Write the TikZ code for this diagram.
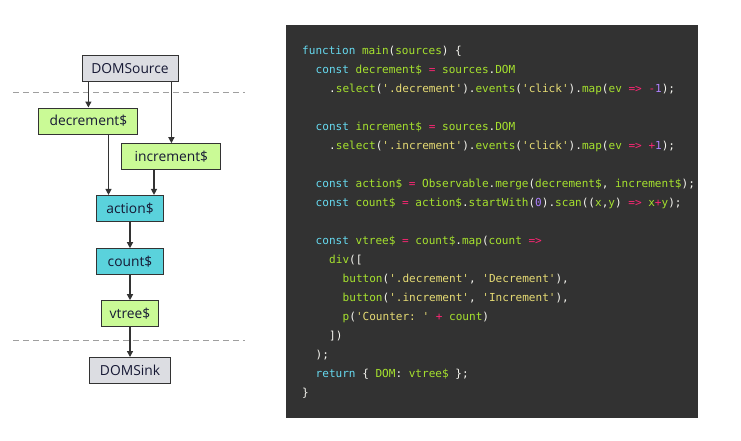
\documentclass[tikz,border=0pt]{standalone}
\usepackage{fontspec}
\setmainfont{Open Sans}
\setmonofont{DejaVu Sans Mono}
\usepackage{xcolor}
\usepackage{tikz}
\usetikzlibrary{arrows.meta,positioning}
\definecolor{edge}{RGB}{51,51,51}
\definecolor{ink}{RGB}{22,24,52}
\definecolor{iogray}{RGB}{220,221,226}
\definecolor{evgreen}{RGB}{202,250,150}
\definecolor{stcyan}{RGB}{90,210,220}
\definecolor{codebg}{RGB}{50,50,50}
\definecolor{cdtext}{RGB}{248,248,242}
\definecolor{cdkwc}{RGB}{102,217,239}
\definecolor{cdidc}{RGB}{166,226,46}
\definecolor{cdstrc}{RGB}{230,219,116}
\definecolor{cdopc}{RGB}{249,38,114}
\definecolor{cdnumc}{RGB}{174,129,255}
\newcommand\cdkw[1]{\textcolor{cdkwc}{#1}}
\newcommand\cdid[1]{\textcolor{cdidc}{#1}}
\newcommand\cdstr[1]{\textcolor{cdstrc}{#1}}
\newcommand\cdop[1]{\textcolor{cdopc}{#1}}
\newcommand\cdnum[1]{\textcolor{cdnumc}{#1}}
\tikzset{
  flow/.style={rectangle,draw=edge,line width=1pt,minimum width=#1,
               minimum height=26pt,inner xsep=1pt,inner ysep=0pt,
               font=\fontsize{13.8}{16}\selectfont,text=ink},
  io/.style={flow=#1,fill=iogray},
  evt/.style={flow=#1,fill=evgreen},
  strm/.style={flow=#1,fill=stcyan},
  arr/.style={-{Triangle[length=6pt,width=6pt]},line width=1.3pt,draw=edge},
}
\begin{document}
\begin{tikzpicture}[x=1pt,y=-1pt,
        sep/.style={draw=gray!75,line width=1pt,dash pattern=on 6pt off 4pt},
        code/.style={anchor=base west,inner sep=0pt,text=cdtext,
                     font=\ttfamily\fontsize{11.05}{13}\selectfont\frenchspacing},
      ]
        \useasboundingbox (0,0) rectangle (741,440);

        % ── Dataflow column
        \node[io=96pt]    (src) at (130,  68.8) {DOMSource};
        \node[evt=99pt]   (dec) at (88.4, 121)  {decrement\$};
        \node[evt=99pt]   (inc) at (171.4,156.7){increment\$};
        \node[strm=67pt]  (act) at (130,  208.4){action\$};
        \node[strm=67pt]  (cnt) at (130,  261.7){count\$};
        \node[evt=57pt]   (vtr) at (130,  313.7){vtree\$};
        \node[io=81pt]    (snk) at (130,  370.5){DOMSink};

        \draw[sep] (13,92.7)--(245,92.7);
        \draw[sep] (13,340.7)--(245,340.7);

        % ── Arrows
        \coordinate (actL) at ([xshift=12.5pt]act.north west);
        \coordinate (actR) at ([xshift=-10pt]act.north east);
        \draw[arr] (src.south -| dec.north)--(dec.north);
        \draw[arr] (src.south -| inc.north)--(inc.north);
        \draw[arr] (dec.south -| actL)--(actL);
        \draw[arr] (inc.south -| actR)--(actR);
        \draw[arr] (act)--(cnt);
        \draw[arr] (cnt)--(vtr);
        \draw[arr] (vtr)--(snk);

        % ── Code panel
        \fill[codebg] (286,25) rectangle (697.7,417.7);
        \node[code] (ln0)  at (302,  54.7) {\cdkw{function} \cdid{main}(\cdid{sources}) \{};
        \node[code] (ln1)  at (315.5,73.7) {\cdkw{const} \cdid{decrement\$} \cdop{=} \cdid{sources}.\cdid{DOM}};
        \node[code] (ln2)  at (329,  92.7) {.\cdid{select}(\cdstr{'.decrement'}).\cdid{events}(\cdstr{'click'}).\cdid{map}(\cdid{ev} \cdop{=>} \cdop{-}\cdnum{1});};
        \node[code] (ln4)  at (315.5,130.7){\cdkw{const} \cdid{increment\$} \cdop{=} \cdid{sources}.\cdid{DOM}};
        \node[code] (ln5)  at (329,  149.7){.\cdid{select}(\cdstr{'.increment'}).\cdid{events}(\cdstr{'click'}).\cdid{map}(\cdid{ev} \cdop{=>} \cdop{+}\cdnum{1});};
        \node[code] (ln7)  at (315.5,187.7){\cdkw{const} \cdid{action\$} \cdop{=} \cdid{Observable}.\cdid{merge}(\cdid{decrement\$}, \cdid{increment\$});};
        \node[code] (ln8)  at (315.5,206.7){\cdkw{const} \cdid{count\$} \cdop{=} \cdid{action\$}.\cdid{startWith}(\cdnum{0}).\cdid{scan}((\cdid{x},\cdid{y}) \cdop{=>} \cdid{x}\cdop{+}\cdid{y});};
        \node[code] (ln10) at (315.5,244.7){\cdkw{const} \cdid{vtree\$} \cdop{=} \cdid{count\$}.\cdid{map}(\cdid{count} \cdop{=>}};
        \node[code] (ln11) at (329,  263.7){\cdid{div}([};
        \node[code] (ln12) at (342.5,282.7){\cdid{button}(\cdstr{'.decrement'}, \cdstr{'Decrement'}),};
        \node[code] (ln13) at (342.5,301.7){\cdid{button}(\cdstr{'.increment'}, \cdstr{'Increment'}),};
        \node[code] (ln14) at (342.5,320.7){\cdid{p}(\cdstr{'Counter: '} \cdop{+} \cdid{count})};
        \node[code] (ln15) at (329,  339.7){])};
        \node[code] (ln16) at (315.5,358.7){);};
        \node[code] (ln17) at (315.5,377.7){\cdkw{return} \{ \cdid{DOM}: \cdid{vtree\$} \};};
        \node[code] (ln18) at (302,  396.7){\}};
      \end{tikzpicture}
\end{document}
